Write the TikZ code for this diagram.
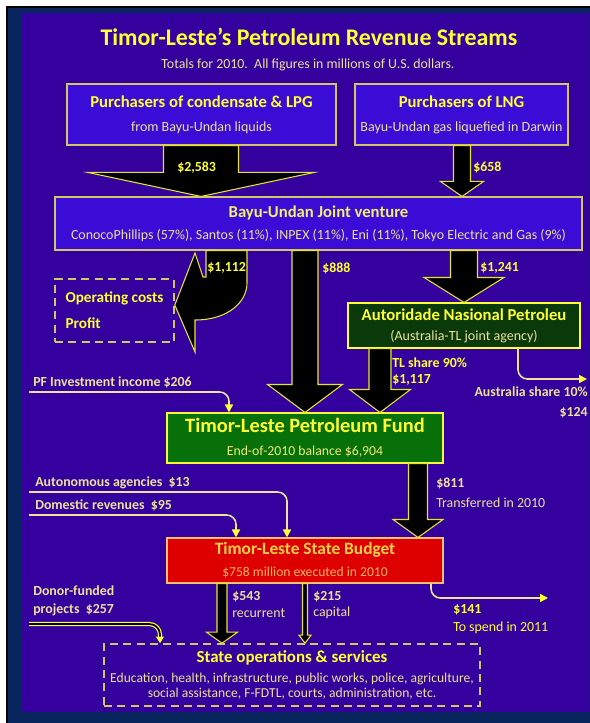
\documentclass[tikz,border=0pt]{standalone}
\usepackage{fontspec}
\setmainfont{Carlito}
\usetikzlibrary{arrows.meta,calc}
\definecolor{slidebg}{RGB}{52,0,158}
\definecolor{slidenavy}{RGB}{8,36,92}
\definecolor{boxblue}{RGB}{58,12,214}
\definecolor{boxline}{RGB}{214,196,104}
\definecolor{sunyellow}{RGB}{255,255,51}
\definecolor{cream}{RGB}{236,226,156}
\definecolor{fundgreen}{RGB}{8,112,8}
\definecolor{anpgreen}{RGB}{10,58,10}
\definecolor{budgetred}{RGB}{222,0,0}
\definecolor{budgetgold}{RGB}{255,210,70}
\definecolor{budgetorange}{RGB}{255,178,92}
\newcommand{\flowarrow}[6]{
  \filldraw[bigflow] ($(#1,0 |- #2.south)+(-#4,0)$) -- ($(#1,0 |- #3.north)+(-#4,-#6)$) -- ($(#1,0 |- #3.north)+(-#5,-#6)$) -- (#1,0 |- #3.north) -- ($(#1,0 |- #3.north)+(#5,-#6)$) -- ($(#1,0 |- #3.north)+(#4,-#6)$) -- ($(#1,0 |- #2.south)+(#4,0)$) -- cycle;
}
\begin{document}
\begin{tikzpicture}[x=0.75pt, y=-0.75pt,
  box/.style={draw=boxline, line width=0.8pt, inner sep=0pt, align=center, text=sunyellow},
  dashbox/.style={draw=boxline, line width=1.2pt, dash pattern=on 6pt off 4pt, inner sep=0pt},
  bigflow/.style={fill=black, draw=sunyellow!90!black, line width=0.8pt, line join=miter},
  thinflow/.style={draw=cream, line width=1.2pt, rounded corners=7pt, -{Triangle[length=6pt,width=6pt,color=sunyellow]}},
  donorflow/.style={draw=sunyellow, double=black, double distance=1.3pt, line width=0.9pt, rounded corners=8pt, -{Triangle[length=5pt,width=6pt,color=sunyellow]}},
  lbl/.style={anchor=west, inner sep=0pt, font=\bfseries\fontsize{10.4}{12}\selectfont, text=sunyellow},
  note/.style={anchor=west, inner sep=0pt, font=\fontsize{10.4}{12}\selectfont, text=cream}]
  \useasboundingbox (0,0) rectangle (589,723);
  \fill[white] (0,0) rectangle (589,723);
  \filldraw[fill=slidenavy, draw=black, line width=1pt] (7,7) rectangle (595,730);
  \fill[slidebg] (21,13) rectangle (589,712);

  \node[font=\bfseries\fontsize{17.9}{20}\selectfont, text=sunyellow] (title) at (309,37) {Timor-Leste’s Petroleum Revenue Streams};
  \node[font=\fontsize{10.4}{12}\selectfont, text=cream] (totals) at (308,65) {Totals for 2010.\ \ All figures in millions of U.S. dollars.};

  \node[box, fill=boxblue, minimum width=201.75pt, minimum height=45.75pt, font=\fontsize{10.5}{18}\selectfont] (liquids) at (201.5,114.5) {{\bfseries\fontsize{12.5}{18}\selectfont Purchasers of condensate \& LPG}\\{\color{cream}from Bayu-Undan liquids}};
  \node[box, fill=boxblue, minimum width=159.75pt, minimum height=45.75pt, font=\fontsize{10.5}{18}\selectfont] (lng) at (461.5,114.5) {{\bfseries\fontsize{12.5}{18}\selectfont Purchasers of LNG}\\{\color{cream}Bayu-Undan gas liquefied in Darwin}};
  \node[box, fill=boxblue, minimum width=395.25pt, minimum height=39.75pt, font=\fontsize{10.45}{16.5}\selectfont] (venture) at (318.5,223.5) {{\bfseries\fontsize{12.5}{16.5}\selectfont\color{cream!60!sunyellow}Bayu-Undan Joint venture}\\{\color{cream}ConocoPhillips (57\%), Santos (11\%), INPEX (11\%), Eni (11\%), Tokyo Electric and Gas (9\%)}};
  \node[dashbox, minimum width=89.25pt, minimum height=47.25pt, align=left, text=sunyellow, font=\bfseries\fontsize{11.4}{19.5}\selectfont] (opcost) at (114.5,310.5) {Operating costs\\Profit};
  \node[box, draw=sunyellow, fill=anpgreen, minimum width=174pt, minimum height=33.75pt, font=\fontsize{10.5}{15}\selectfont] (anp) at (464,325.5) {{\bfseries\fontsize{12.5}{15}\selectfont Autoridade Nasional Petroleu}\\{\color{cream}(Australia-TL joint agency)}};
  \node[box, draw=sunyellow!85!boxline, fill=fundgreen, minimum width=207pt, minimum height=37.5pt, font=\fontsize{10.3}{17.3}\selectfont] (fund) at (305,438) {{\bfseries\fontsize{15.3}{17.3}\selectfont Timor-Leste Petroleum Fund}\\{\color{cream!70!sunyellow}End-of-2010 balance \$6,904}};
  \node[box, draw=budgetorange!70!cream, fill=budgetred, minimum width=207pt, minimum height=33.75pt, font=\fontsize{10.2}{16.5}\selectfont] (budget) at (305,560.5) {{\bfseries\fontsize{13}{16.5}\selectfont\color{budgetgold}Timor-Leste State Budget}\\{\color{budgetorange}\$758 million executed in 2010}};
  \node[dashbox, minimum width=282pt, minimum height=46.5pt, align=center, text=cream, font=\fontsize{10.2}{11.25}\selectfont] (services) at (292,675) {{\bfseries\fontsize{12.7}{11.25}\selectfont\color{sunyellow}State operations \& services}\\[3.75pt]Education, health, infrastructure, public works, police, agriculture,\\social assistance, F-FDTL, courts, administration, etc.};

  \flowarrow{201}{liquids}{venture}{37.5}{113}{24}
  \flowarrow{462}{lng}{venture}{8.5}{21.5}{15}
  \flowarrow{305}{venture}{fund}{13}{37.5}{28}
  \flowarrow{464}{venture}{anp}{13.5}{40}{25}
  \flowarrow{380}{anp}{fund}{11}{30.5}{23}
  \flowarrow{418}{fund}{budget}{9.5}{25}{18}
  \flowarrow{222}{budget}{services}{5}{15.5}{11}
  \flowarrow{305}{budget}{services}{2.5}{6}{8}
  \filldraw[bigflow] (206,0 |- venture.south) -- (206,277) -- (203,277) -- (195,253) -- (opcost.east |- 0,305) -- (195,352) -- (195,320) .. controls (228,320) and (247,302) .. (247,283) -- (247,0 |- venture.south) -- cycle;

  \coordinate (pfincome) at (29,392);
  \coordinate (autoag) at (29,492);
  \coordinate (domrev) at (29,515);
  \coordinate (ausshare) at (587,379);
  \coordinate (carryover) at (548,598);
  \coordinate (donors) at (29,624);
  \draw[thinflow] (pfincome) -- (229,392) -- (229,0 |- fund.north);
  \draw[thinflow] (autoag) -- (287,492) -- (287,0 |- budget.north);
  \draw[thinflow] (domrev) -- (236,515) -- (236,0 |- budget.north);
  \draw[thinflow] (518,0 |- anp.south) -- (518,379) -- (ausshare);
  \draw[thinflow] (431,0 |- budget.south) -- (431,598) -- (carryover);
  \draw[donorflow] (donors) -- (160,624) -- (160,0 |- services.north);

  \node[lbl] (amt2583) at (177,168) {\$2,583};
  \node[lbl] (amt658) at (473,167) {\$658};
  \node[lbl] (amt1112) at (207,268) {\$1,112};
  \node[lbl] (amt888) at (322,268) {\$888};
  \node[lbl] (amt1241) at (480,268) {\$1,241};
  \node[lbl] (tlshare) at (392,363) {TL share 90\%};
  \node[lbl] (amt1117) at (392,380) {\$1,117};
  \node[lbl, anchor=east, text=cream] (aushare) at (588,392) {Australia share 10\%};
  \node[lbl, anchor=east, text=cream] (amt124) at (588,413) {\$124};
  \node[lbl, text=cream] (pfinclbl) at (33,382) {PF Investment income \$206};
  \node[lbl, text=cream] (amt811) at (436,483) {\$811};
  \node[note] (transfer) at (436,503) {Transferred in 2010};
  \node[lbl, text=cream] (autolbl) at (35,483) {Autonomous agencies\ \ \$13};
  \node[lbl, text=cream] (domlbl) at (35,505) {Domestic revenues\ \ \$95};
  \node[lbl, text=cream] (amt543) at (232,597) {\$543};
  \node[note] (recur) at (232,613) {recurrent};
  \node[lbl, text=cream] (amt215) at (313,597) {\$215};
  \node[note] (capital) at (313,613) {capital};
  \node[lbl] (amt141) at (453,610) {\$141};
  \node[note, text=sunyellow] (spend) at (453,628) {To spend in 2011};
  \node[lbl, text=cream, align=left, font=\bfseries\fontsize{10.4}{13.5}\selectfont] (donorlbl) at (33,601) {Donor-funded\\projects\ \ \$257};
\end{tikzpicture}
\end{document}
